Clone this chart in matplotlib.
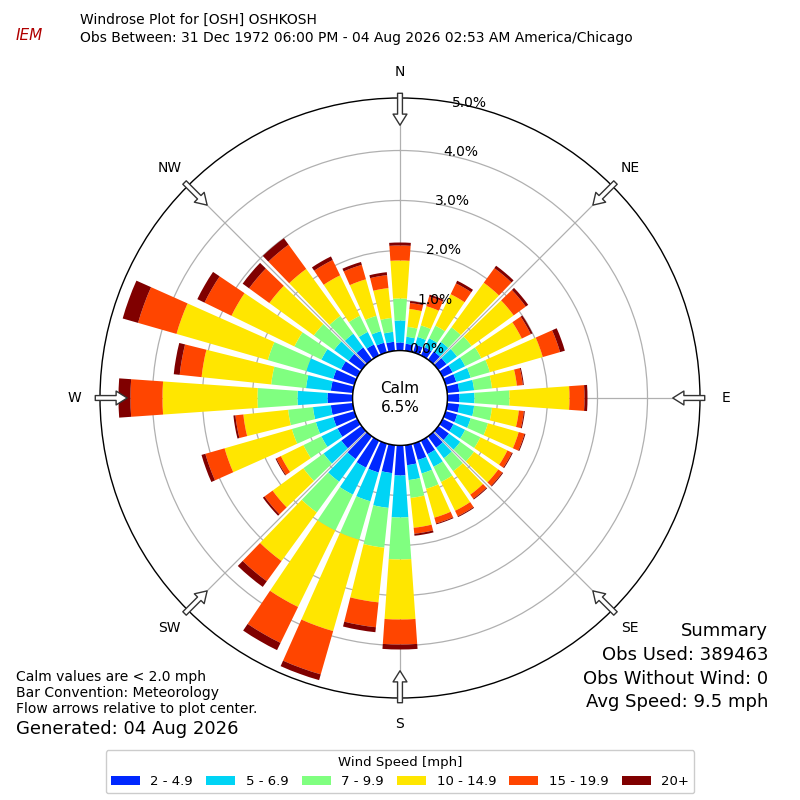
import numpy as np
import matplotlib
matplotlib.use("Agg")
import matplotlib.pyplot as plt
from matplotlib.patches import Circle

# directions (deg, meteorological) and percent frequency per speed bin
directions = list(range(0, 360, 10))
spd_2_5 = [.16, .14, .16, .18, .20, .20, .22, .22, .24, .24, .24, .24, .24, .26, .28, .30, .34, .40,
           .60, .56, .60, .60, .56, .50, .44, .44, .44, .50, .44, .44, .36, .32, .30, .24, .20, .18]
spd_5_7 = [.44, .14, .16, .20, .24, .26, .28, .30, .30, .30, .30, .28, .26, .28, .26, .28, .28, .30,
           .84, .70, .60, .60, .56, .44, .36, .36, .36, .60, .50, .56, .44, .36, .34, .28, .24, .20]
spd_7_10 = [.44, .20, .24, .28, .36, .36, .36, .40, .36, .70, .36, .36, .34, .34, .32, .34, .32, .36,
            .84, .80, .80, .80, .76, .50, .40, .50, .50, .80, .70, .80, .60, .50, .44, .36, .32, .28]
spd_10_15 = [.76, .36, .40, .70, 1.10, 1.04, .90, 1.10, .50, 1.20, .54, .64, .60, .60, .58, .64, .60, .60,
             1.20, 1.10, 1.90, 1.70, 1.20, .76, .50, 1.40, .90, 1.90, 1.40, 1.90, 1.40, 1.10, 1.16, .90, .76, .60]
spd_15_20 = [.30, .12, .20, .24, .36, .30, .20, .36, .12, .30, .10, .12, .10, .10, .10, .12, .12, .12,
             .50, .50, .90, .80, .50, .20, .10, .40, .16, .64, .44, .80, .60, .50, .60, .34, .30, .26]
spd_20 = [.06, .04, .04, .06, .06, .06, .04, .10, .02, .06, .02, .02, .02, .02, .02, .02, .02, .04,
          .10, .10, .12, .16, .14, .04, .02, .08, .04, .24, .12, .32, .16, .16, .16, .08, .06, .06]

bins = [spd_2_5, spd_5_7, spd_7_10, spd_10_15, spd_15_20, spd_20]
labels = ["2 - 4.9", "5 - 6.9", "7 - 9.9", "10 - 14.9", "15 - 19.9", "20+"]
colors = ["#0028ff", "#00d4f5", "#80ff80", "#ffe600", "#ff4500", "#800000"]
rings = [0, 1, 2, 3, 4, 5]

fig = plt.figure(figsize=(8, 8), dpi=100)
ax = fig.add_axes([0.125, 0.1275, 0.75, 0.75], projection="polar")
ax.set_theta_zero_location("N")
ax.set_theta_direction(-1)
ax.set_rorigin(-0.95)
ax.set_ylim(0, 5.05)

theta = np.deg2rad(directions)
bottom = np.zeros(len(directions))
for vals, lab, col in zip(bins, labels, colors):
    ax.bar(theta, vals, width=np.deg2rad(8), bottom=bottom, color=col, label=lab,
           edgecolor="none", zorder=2)
    bottom += np.array(vals)

ax.set_yticks(rings[:-1])
ax.set_yticklabels([])
for r in rings:
    ax.text(np.deg2rad(10), r + 0.05, f"{r:.1f}%", fontsize=10, ha="left",
            va="center", zorder=10)
ax.set_xticks(np.deg2rad(range(0, 360, 45)))
ax.set_xticklabels(["N", "NE", "E", "SE", "S", "SW", "W", "NW"], fontsize=10)
ax.tick_params(axis="x", pad=8)
ax.grid(color="#b0b0b0", lw=0.9, zorder=1)
ax.spines["polar"].set_linewidth(1.0)

# flow arrows at the cardinal/intercardinal directions
for d in range(0, 360, 45):
    t = np.deg2rad(d)
    ax.annotate("", xy=(t, 4.45), xytext=(t, 5.2), xycoords="data",
                arrowprops=dict(arrowstyle="simple,head_width=1.0,head_length=0.8,tail_width=0.35",
                                fc="white", ec="#333333", lw=1.0), zorder=5,
                annotation_clip=False)

ax.add_patch(Circle((0.5, 0.5), 0.079, transform=ax.transAxes, fc="white",
                    ec="black", lw=1.0, zorder=4, clip_on=False))
ax.text(0.5, 0.5, "Calm\n6.5%", transform=ax.transAxes, ha="center", va="center",
        fontsize=11, zorder=6, linespacing=1.3)

fig.text(0.1, 0.975, "Windrose Plot for [OSH] OSHKOSH", fontsize=10, va="center")
fig.text(0.1, 0.953, "Obs Between: 31 Dec 1972 06:00 PM - 04 Aug 2026 02:53 AM America/Chicago",
         fontsize=10, va="center")
fig.text(0.02, 0.955, "IEM", fontsize=11, color="#b00000", style="italic", va="center")

fig.text(0.96, 0.222, "Summary\nObs Used: 389463\nObs Without Wind: 0\nAvg Speed: 9.5 mph",
         ha="right", va="top", fontsize=13, linespacing=1.4)
fig.text(0.02, 0.163, "Calm values are < 2.0 mph\nBar Convention: Meteorology\nFlow arrows relative to plot center.",
         fontsize=10, va="top", linespacing=1.2)
fig.text(0.02, 0.089, "Generated: 04 Aug 2026", fontsize=13, va="center")

fig.legend(loc="lower center", bbox_to_anchor=(0.5, 0.0), ncol=6, fontsize=9.5,
           title="Wind Speed [mph]", title_fontsize=9.5, handlelength=2.2,
           handleheight=0.6, columnspacing=1.0, framealpha=1)

fig.savefig("out.png", dpi=100)
